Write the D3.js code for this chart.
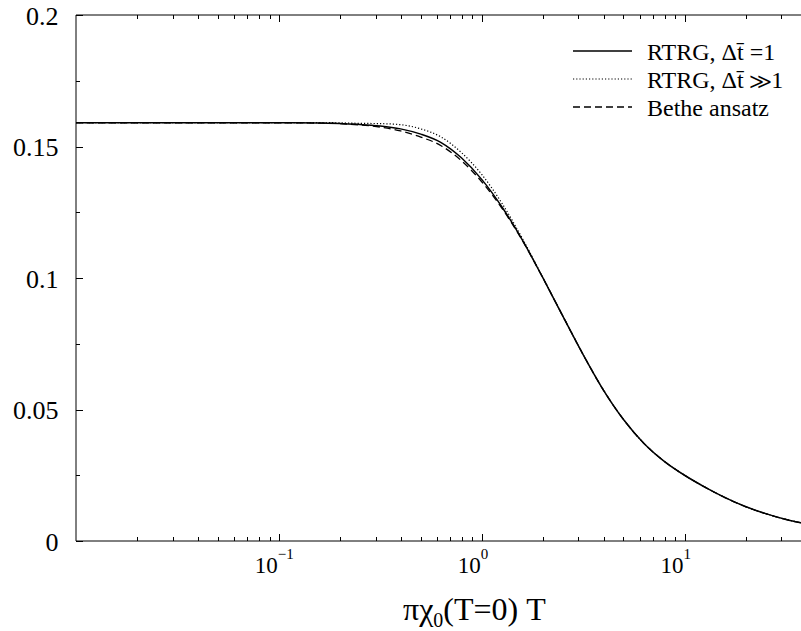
<!DOCTYPE html>
<html>
<head>
<meta charset="utf-8">
<script src="https://cdn.jsdelivr.net/npm/d3@7"></script>
<style>
  html, body { margin: 0; padding: 0; background: #fff; }
  svg { display: block; }
  svg text {
    font-family: "Liberation Serif", "Tinos", "Times New Roman", "Times", "Nimbus Roman",
      "Nimbus Roman No9 L", "FreeSerif", "Noto Serif", "DejaVu Serif", serif;
  }
</style>
</head>
<body>
<svg id="chart" width="801" height="631"></svg>
<script>
// Temperature grid, πχ0(T=0)·T
const tGrid = [0.01, 0.0316, 0.1, 0.158, 0.2, 0.251, 0.316, 0.398, 0.501, 0.631, 0.794,
  1.0, 1.259, 1.585, 1.995, 2.512, 3.162, 3.981, 5.012, 6.31, 7.943, 10, 12.59, 15.85,
  19.95, 25.12, 31.62, 39.81];

// RTRG, Δt̄ = 1 (solid)
const rtrgOne = [0.1590, 0.1590, 0.1590, 0.1589, 0.1587, 0.1584, 0.1578, 0.1567, 0.1547,
  0.1515, 0.1457, 0.1375, 0.1270, 0.1145, 0.1003, 0.0855, 0.0709, 0.0574, 0.0461, 0.0371,
  0.0303, 0.0250, 0.0205, 0.0165, 0.0131, 0.0104, 0.0082, 0.0065];

// RTRG, Δt̄ ≫ 1 (dotted)
const rtrgLarge = [0.1591, 0.1591, 0.1591, 0.1591, 0.1590, 0.1588, 0.1587, 0.1583, 0.1567,
  0.1536, 0.1477, 0.1394, 0.1284, 0.1151, 0.1004, 0.0855, 0.0709, 0.0574, 0.0461, 0.0371,
  0.0303, 0.0250, 0.0205, 0.0165, 0.0131, 0.0104, 0.0082, 0.0065];

// Bethe ansatz (dashed)
const betheAnsatz = [0.1590, 0.1590, 0.1590, 0.1589, 0.1587, 0.1582, 0.1574, 0.1559, 0.1536,
  0.1503, 0.1446, 0.1366, 0.1265, 0.1143, 0.1003, 0.0855, 0.0709, 0.0574, 0.0461, 0.0371,
  0.0303, 0.0250, 0.0205, 0.0165, 0.0131, 0.0104, 0.0082, 0.0065];

const xDomain = [0.01, 40];
const yDomain = [0, 0.2];
const yMajorTicks = [0, 0.05, 0.1, 0.15, 0.2];
const yTickLabels = ["0", "0.05", "0.1", "0.15", "0.2"];
const xMajorTicks = [0.1, 1, 10];
const xTickExponents = ["\u22121", "0", "1"];

const series = [
  { name: "RTRG, \u0394t\u0304 =1", values: rtrgOne, dash: null, width: 1.5 },
  { name: "RTRG, \u0394t\u0304 \u226B1", values: rtrgLarge, dash: "1.2,2", width: 1.2 },
  { name: "Bethe ansatz", values: betheAnsatz, dash: "7,4", width: 1.3 }
];

const svg = d3.select("#chart");
const plotLeft = 76, plotRight = 76 + Math.log10(xDomain[1] / xDomain[0]) * 202.85;
const plotTop = 15, plotBottom = 541;

const x = d3.scaleLog().domain(xDomain).range([plotLeft, plotRight]);
const y = d3.scaleLinear().domain(yDomain).range([plotBottom, plotTop]);

svg.append("defs").append("clipPath").attr("id", "plot-clip")
  .append("rect").attr("x", plotLeft).attr("y", plotTop)
  .attr("width", plotRight - plotLeft).attr("height", plotBottom - plotTop);

// curves
const line = d3.line()
  .x(d => x(d[0]))
  .y(d => y(d[1]))
  .curve(d3.curveMonotoneX);

const curves = svg.append("g").attr("clip-path", "url(#plot-clip)");
series.forEach(s => {
  curves.append("path")
    .attr("d", line(tGrid.map((t, i) => [t, s.values[i]])))
    .attr("fill", "none")
    .attr("stroke", "#000")
    .attr("stroke-width", s.width)
    .attr("stroke-dasharray", s.dash);
});

// frame
const frame = svg.append("g").attr("fill", "none").attr("stroke", "#000").attr("stroke-width", 1);
frame.append("line").attr("x1", plotLeft).attr("x2", plotLeft).attr("y1", plotTop).attr("y2", plotBottom);
frame.append("line").attr("x1", plotLeft).attr("x2", plotRight).attr("y1", plotBottom).attr("y2", plotBottom);
frame.append("line").attr("x1", plotLeft).attr("x2", plotRight).attr("y1", plotTop).attr("y2", plotTop);

// x ticks (major + minor), mirrored on the top edge
const xMinor = [];
for (let dec = 0.01; dec < xDomain[1]; dec *= 10) {
  for (let k = 2; k <= 9; k++) {
    const v = +(dec * k).toPrecision(3);
    if (v <= xDomain[1]) xMinor.push(v);
  }
}
const tickG = svg.append("g").attr("stroke", "#000").attr("stroke-width", 1);
xMajorTicks.forEach(v => {
  const px = Math.round(x(v)) + 0.5;
  tickG.append("line").attr("x1", px).attr("x2", px).attr("y1", plotBottom).attr("y2", plotBottom - 7);
  tickG.append("line").attr("x1", px).attr("x2", px).attr("y1", plotTop).attr("y2", plotTop + 7);
});
xMinor.forEach(v => {
  const px = Math.round(x(v)) + 0.5;
  tickG.append("line").attr("x1", px).attr("x2", px).attr("y1", plotBottom).attr("y2", plotBottom - 4);
  tickG.append("line").attr("x1", px).attr("x2", px).attr("y1", plotTop).attr("y2", plotTop + 4);
});

// y ticks
const yMinor = d3.range(0.025, 0.2, 0.05);
yMajorTicks.forEach(v => {
  const py = Math.round(y(v)) + 0.5;
  tickG.append("line").attr("x1", plotLeft).attr("x2", plotLeft + 7).attr("y1", py).attr("y2", py);
});
yMinor.forEach(v => {
  const py = Math.round(y(v)) + 0.5;
  tickG.append("line").attr("x1", plotLeft).attr("x2", plotLeft + 4).attr("y1", py).attr("y2", py);
});

// y tick labels
yMajorTicks.forEach((v, i) => {
  svg.append("text")
    .attr("x", 58.5)
    .attr("y", y(v) + 9.5)
    .attr("text-anchor", "end")
    .attr("font-size", 26)
    .text(yTickLabels[i]);
});

// x tick labels: 10 with exponent
xMajorTicks.forEach((v, i) => {
  const t = svg.append("text")
    .attr("x", x(v) - 24)
    .attr("y", 573)
    .attr("font-size", 23);
  t.append("tspan").text("10");
  t.append("tspan").attr("font-size", 15).attr("dy", -14).text(xTickExponents[i]);
});

// x axis title
const title = svg.append("text")
  .attr("x", 403)
  .attr("y", 620)
  .attr("font-size", 32);
title.append("tspan").text("\u03C0\u03C7");
title.append("tspan").attr("font-size", 20).attr("dy", 7).text("0");
title.append("tspan").attr("dy", -7).text("(T=0) T");

// legend
const legendRows = [51, 79, 107];
series.forEach((s, i) => {
  const ly = legendRows[i];
  svg.append("line")
    .attr("x1", 573).attr("x2", 632)
    .attr("y1", ly).attr("y2", ly)
    .attr("stroke", "#000")
    .attr("stroke-width", s.width)
    .attr("stroke-dasharray", s.dash);
  svg.append("text")
    .attr("x", 647)
    .attr("y", ly + 8.5)
    .attr("font-size", 24)
    .text(s.name);
});
</script>
</body>
</html>
